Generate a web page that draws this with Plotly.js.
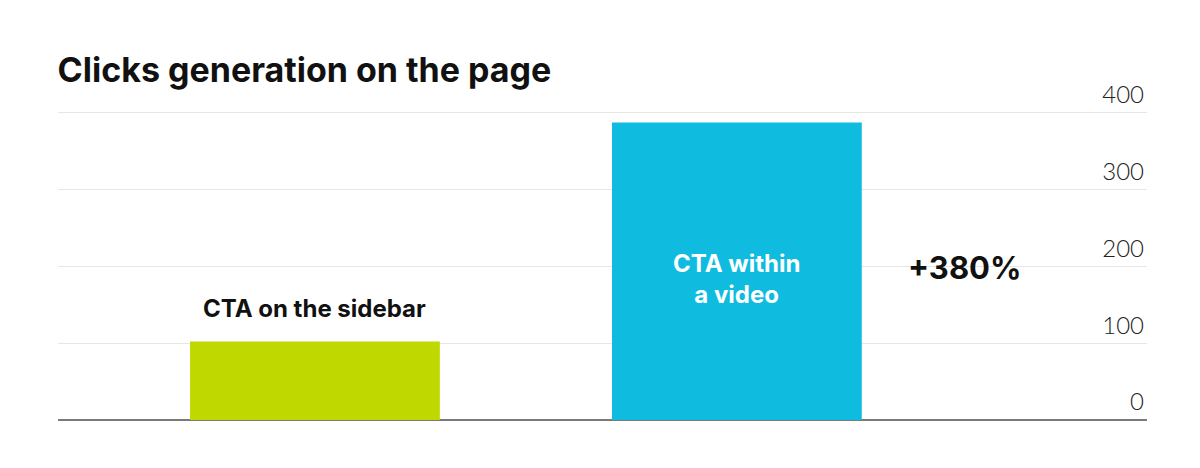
<!DOCTYPE html>
<html>
<head>
<meta charset="utf-8">
<script src="https://cdn.plot.ly/plotly-3.0.1.min.js"></script>
<style>
  html, body { margin: 0; padding: 0; background: #fff; }
  #plot { width: 1200px; height: 468px; }
</style>
</head>
<body>
<div id="plot"></div>
<script>
const categories = ['CTA on the sidebar', 'CTA within<br>a video'];
const clicks = [102, 387];
const barColors = ['#bfd800', '#0fbcdf'];
const tickValues = [0, 100, 200, 300, 400];
const upliftLabel = '+380%';

const trace = {
  x: [0, 1],
  y: clicks,
  type: 'bar',
  width: 0.592,
  marker: { color: barColors },
  hoverinfo: 'none',
};

const annotations = [
  {
    x: 0, y: clicks[0], xref: 'x', yref: 'y',
    text: '<b>' + categories[0] + '</b>',
    showarrow: false, yanchor: 'bottom', yshift: 17,
    font: { family: 'Inter', size: 24, color: '#111' },
  },
  {
    x: 1, y: clicks[1] / 2, xref: 'x', yref: 'y',
    text: '<b>' + categories[1] + '</b>',
    showarrow: false, yanchor: 'middle', yshift: -8,
    font: { family: 'Inter', size: 24, color: '#fff' },
  },
  {
    x: 1.54, y: 198, xref: 'x', yref: 'y',
    text: '<b>' + upliftLabel + '</b>',
    showarrow: false,
    font: { family: 'Inter', size: 31, color: '#111' },
  },
];

const layout = {
  width: 1200,
  height: 468,
  margin: { l: 58, r: 53, t: 111, b: 48 },
  paper_bgcolor: '#fff',
  plot_bgcolor: '#fff',
  showlegend: false,
  title: {
    text: '<b>Clicks generation on the page</b>',
    x: 0.048, xanchor: 'left', y: 0.85, yanchor: 'middle',
    font: { family: 'Inter', size: 34, color: '#111' },
  },
  xaxis: {
    range: [-0.609, 1.972],
    showticklabels: false,
    showgrid: false,
    zeroline: false,
    fixedrange: true,
  },
  yaxis: {
    side: 'left',
    anchor: 'free',
    position: 1,
    range: [0, 402],
    tickvals: tickValues,
    ticks: '',
    ticklabelposition: 'outside',
    ticklabelshift: -18,
    ticklabelstandoff: 3,
    automargin: false,
    tickfont: { family: 'Lato', size: 24, color: '#222', weight: 300 },
    gridcolor: '#e6e6e6',
    gridwidth: 1,
    zeroline: true,
    zerolinecolor: '#7a7a7a',
    zerolinewidth: 2,
    showline: false,
    fixedrange: true,
  },
  annotations,
};

Plotly.newPlot('plot', [trace], layout, { displayModeBar: false, staticPlot: true });
</script>
</body>
</html>
